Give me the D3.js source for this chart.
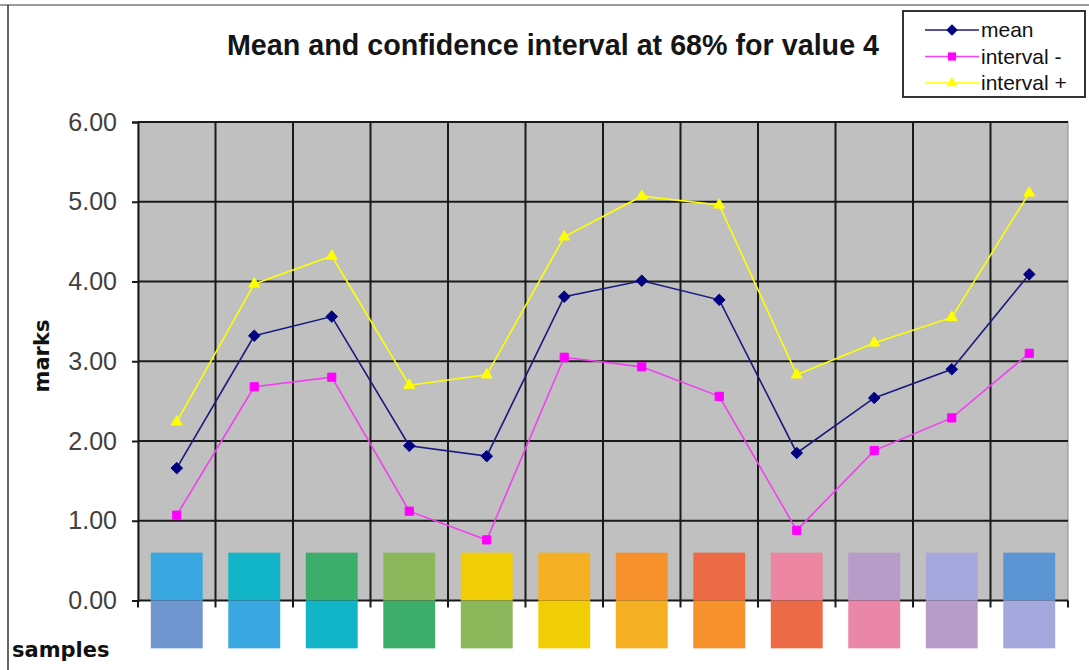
<!DOCTYPE html>
<html>
<head>
<meta charset="utf-8">
<script src="https://cdn.jsdelivr.net/npm/d3@7"></script>
<style>
  body { margin: 0; background: #fff; }
  svg { display: block; }
</style>
</head>
<body>
<div id="container"></div>
<script>
const WIDTH = 1089;
const HEIGHT = 670;
const PLOT = {left: 138, right: 1068, top: 122, bottom: 600.5};

// data
var samples = ["1", "2", "3", "4", "5", "6", "7", "8", "9", "10", "11", "12"];
var meanValues = [1.66, 3.32, 3.56, 1.94, 1.81, 3.81, 4.01, 3.77, 1.85, 2.54, 2.90, 4.09];
var lowerValues = [1.07, 2.68, 2.80, 1.12, 0.76, 3.05, 2.93, 2.56, 0.88, 1.88, 2.29, 3.10];
var upperValues = [2.24, 3.97, 4.32, 2.70, 2.83, 4.56, 5.07, 4.96, 2.83, 3.23, 3.55, 5.11];
var yTicks = [0, 1, 2, 3, 4, 5, 6];
var swatchTop = ["#3aa8e0", "#12b4c8", "#3dad6c", "#8cb75a", "#f0cd04", "#f4b022",
                 "#f6912c", "#ec6b46", "#ec86a3", "#b79cca", "#a5a8dc", "#5c95d4"];
var swatchBottom = ["#6f96cf", "#3aa8e0", "#12b4c8", "#3dad6c", "#8cb75a", "#f0cd04",
                    "#f4b022", "#f6912c", "#ec6b46", "#ea86a8", "#b79cca", "#a5a8dc"];

var series = [
    {name: "mean", values: meanValues, color: "#000080", line: "#1a1a80", symbol: d3.symbolDiamond2},
    {name: "interval -", values: lowerValues, color: "#ff00ff", line: "#f040f0", symbol: d3.symbolSquare2},
    {name: "interval +", values: upperValues, color: "#ffff00", line: "#ffff00", symbol: d3.symbolTriangle2}
];

var xScale = d3.scaleBand().domain(samples).range([PLOT.left, PLOT.right]).padding(0);
var yScale = d3.scaleLinear().domain([0, 6]).range([PLOT.bottom, PLOT.top]);
var cx = function (s) { return xScale(s) + xScale.bandwidth() / 2; };

var svg = d3.select("#container").append("svg")
    .attr("width", WIDTH)
    .attr("height", HEIGHT)
    .style("font-family", "'Liberation Sans', Arial, sans-serif");

// chart frame lines
svg.append("line").attr("x1", 0).attr("x2", WIDTH).attr("y1", 5).attr("y2", 5)
    .attr("stroke", "#7a7a7a").attr("stroke-width", 1.5);
svg.append("line").attr("x1", 8).attr("x2", 8).attr("y1", 5).attr("y2", HEIGHT)
    .attr("stroke", "#333").attr("stroke-width", 1.5);

// plot area
svg.append("rect")
    .attr("x", PLOT.left).attr("y", PLOT.top)
    .attr("width", PLOT.right - PLOT.left).attr("height", PLOT.bottom - PLOT.top)
    .attr("fill", "#c0c0c0")
    .attr("stroke", "#8a8a8a").attr("stroke-width", 1);

// horizontal gridlines
svg.append("g").selectAll("line").data(yTicks.slice(1)).join("line")
    .attr("x1", PLOT.left).attr("x2", PLOT.right)
    .attr("y1", function (d) { return yScale(d); })
    .attr("y2", function (d) { return yScale(d); })
    .attr("stroke", "#1a1a1a").attr("stroke-width", 2);

// vertical gridlines at category boundaries
svg.append("g").selectAll("line").data(samples.slice(1)).join("line")
    .attr("x1", function (d) { return xScale(d); })
    .attr("x2", function (d) { return xScale(d); })
    .attr("y1", PLOT.top).attr("y2", PLOT.bottom)
    .attr("stroke", "#1a1a1a").attr("stroke-width", 2);

// y axis
var yAxis = svg.append("g")
    .attr("transform", "translate(" + PLOT.left + ",0)")
    .call(d3.axisLeft(yScale).tickValues(yTicks).tickFormat(d3.format(".2f")).tickSize(6).tickPadding(15));
yAxis.select(".domain").attr("stroke", "#1a1a1a").attr("stroke-width", 2);
yAxis.selectAll(".tick line").attr("stroke", "#1a1a1a").attr("stroke-width", 2);
yAxis.selectAll(".tick text")
    .attr("fill", "#404040")
    .style("font-size", "25px")
    .style("font-family", "'Liberation Sans', Arial, sans-serif");

// x axis with ticks at category boundaries
var xAxis = svg.append("g").attr("transform", "translate(0," + PLOT.bottom + ")");
xAxis.append("line").attr("x1", PLOT.left).attr("x2", PLOT.right)
    .attr("stroke", "#1a1a1a").attr("stroke-width", 2);
xAxis.selectAll(".xtick").data(samples.concat(["end"])).join("line")
    .attr("class", "xtick")
    .attr("x1", function (d) { return d === "end" ? PLOT.right : xScale(d); })
    .attr("x2", function (d) { return d === "end" ? PLOT.right : xScale(d); })
    .attr("y1", 0).attr("y2", 7)
    .attr("stroke", "#1a1a1a").attr("stroke-width", 2);

// colour swatches per sample
var swW = xScale.bandwidth() * 0.67;
var swatches = svg.append("g");
swatches.selectAll(".top").data(samples).join("rect")
    .attr("class", "top")
    .attr("x", function (d) { return cx(d) - swW / 2; })
    .attr("y", yScale(0.6))
    .attr("width", swW)
    .attr("height", yScale(0) - yScale(0.6))
    .attr("fill", function (d, i) { return swatchTop[i]; });
swatches.selectAll(".bottom").data(samples).join("rect")
    .attr("class", "bottom")
    .attr("x", function (d) { return cx(d) - swW / 2; })
    .attr("y", yScale(0))
    .attr("width", swW)
    .attr("height", yScale(-0.6) - yScale(0))
    .attr("fill", function (d, i) { return swatchBottom[i]; });

// series lines and markers
var line = d3.line()
    .x(function (d, i) { return cx(samples[i]); })
    .y(function (d) { return yScale(d); });

series.forEach(function (s) {
    var g = svg.append("g");
    g.append("path")
        .attr("d", line(s.values))
        .attr("fill", "none")
        .attr("stroke", s.line)
        .attr("stroke-width", 1.6);
    g.selectAll("path.marker").data(s.values).join("path")
        .attr("class", "marker")
        .attr("transform", function (d, i) { return "translate(" + cx(samples[i]) + "," + yScale(d) + ")"; })
        .attr("d", d3.symbol().type(s.symbol).size(85))
        .attr("fill", s.color)
        .attr("stroke", s.color)
        .attr("stroke-width", 1);
});

// title
svg.append("text")
    .attr("x", 553).attr("y", 55)
    .attr("text-anchor", "middle")
    .style("font-size", "28.7px")
    .style("font-weight", "bold")
    .attr("fill", "#151515")
    .text("Mean and confidence interval at 68% for value 4");

// axis titles
svg.append("text")
    .attr("transform", "translate(49,356) rotate(-90)")
    .attr("text-anchor", "middle")
    .style("font-family", "'DejaVu Sans', Verdana, sans-serif")
    .style("font-weight", "bold")
    .style("font-size", "21px")
    .attr("fill", "#111")
    .text("marks");
svg.append("text")
    .attr("x", 12).attr("y", 657)
    .style("font-family", "'DejaVu Sans', Verdana, sans-serif")
    .style("font-weight", "bold")
    .style("font-size", "21px")
    .attr("fill", "#111")
    .text("samples");

// legend
var legend = svg.append("g").attr("transform", "translate(903,11)");
legend.append("rect")
    .attr("width", 182).attr("height", 86)
    .attr("fill", "#fff")
    .attr("stroke", "#333").attr("stroke-width", 2);
var item = legend.selectAll(".item").data(series).join("g")
    .attr("class", "item")
    .attr("transform", function (d, i) { return "translate(0," + (19 + i * 26.5) + ")"; });
item.append("line")
    .attr("x1", 22).attr("x2", 76)
    .attr("stroke", function (d) { return d.line; })
    .attr("stroke-width", 1.6);
item.append("path")
    .attr("transform", "translate(49,0)")
    .attr("d", function (d) { return d3.symbol().type(d.symbol).size(85)(); })
    .attr("fill", function (d) { return d.color; });
item.append("text")
    .attr("x", 78).attr("y", 7)
    .style("font-size", "21px")
    .attr("fill", "#111")
    .text(function (d) { return d.name; });
</script>
</body>
</html>
